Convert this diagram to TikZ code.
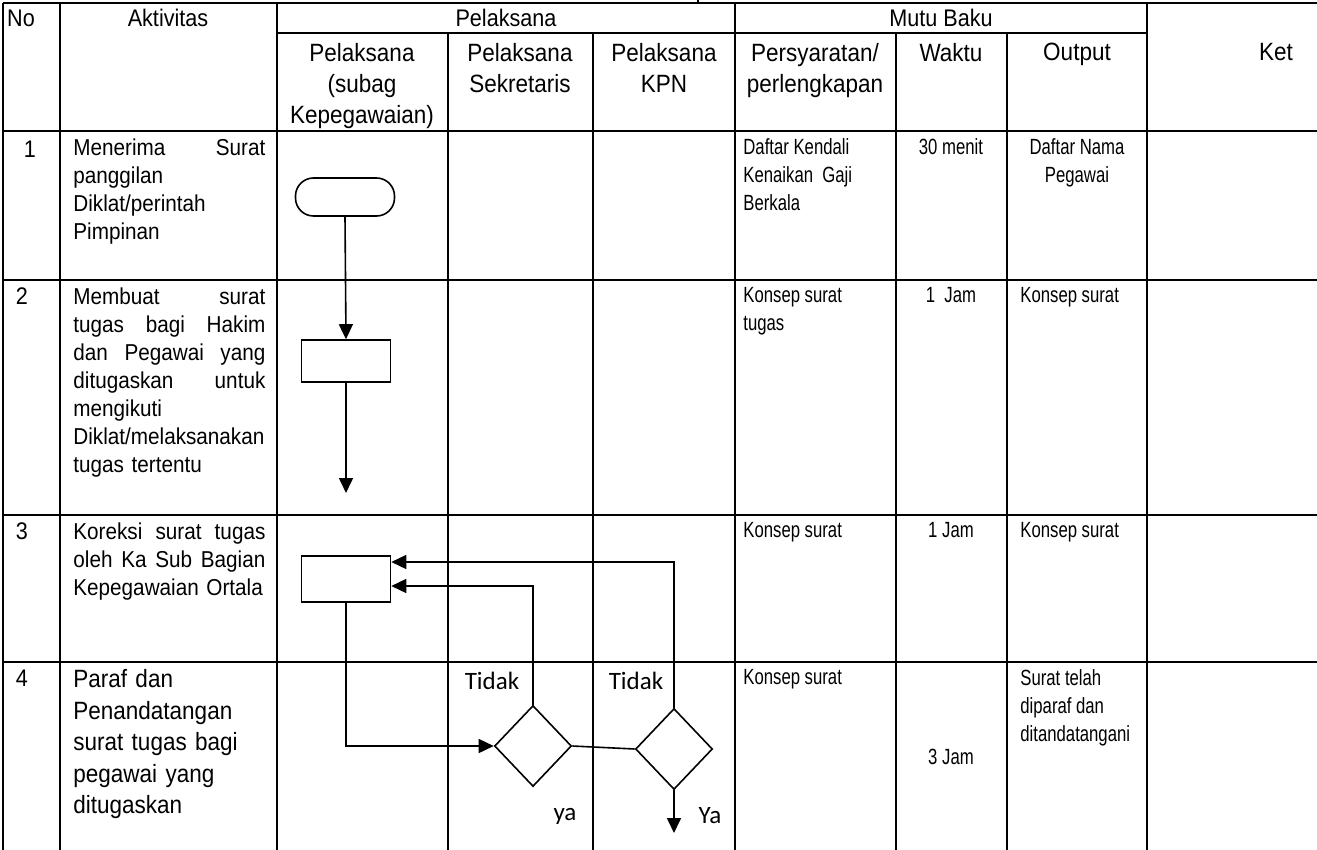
\documentclass[tikz,border=0pt]{standalone}
\usepackage{fontspec}
\setmainfont[FakeStretch=0.9]{Liberation Sans}
\newfontfamily\narrowfont[FakeStretch=0.76]{Liberation Sans}
\newfontfamily\calfont{Carlito}
\usetikzlibrary{arrows.meta,positioning,shapes.geometric}

\begin{document}
\begin{tikzpicture}[x=0.5pt,y=-0.5pt,
    grid/.style={line width=0.7pt},
    rowline/.style={line width=1.1pt},
    hdr/.style={inner sep=0pt,align=center,font=\fontsize{12.5}{15.5}\selectfont},
    num/.style={inner sep=0pt,font=\fontsize{12}{14}\selectfont},
    akt/.style={inner sep=0pt,anchor=north west,align=left,text width=96pt,font=\fontsize{11.5}{14}\selectfont},
    cell/.style={inner sep=0pt,anchor=north west,align=left,font=\narrowfont\fontsize{11}{14}\selectfont},
    ccell/.style={cell,anchor=north,align=center},
    term/.style={draw,line width=0.8pt,rounded corners=9pt,minimum width=49.5pt,minimum height=19pt,inner sep=0pt},
    proc/.style={draw,line width=0.8pt,minimum width=44.5pt,minimum height=21pt,inner sep=0pt},
    dec/.style={draw,diamond,line width=0.8pt,minimum width=38.5pt,minimum height=40.5pt,inner sep=0pt},
    flow/.style={line width=0.8pt,-{Triangle[length=7.5pt,width=7pt]}},
    lbl/.style={inner sep=0pt,font=\calfont\fontsize{12.5}{15}\selectfont}]
  \useasboundingbox (0,0) rectangle (1317,850);
  \fill[white] (0,0) rectangle (1317,850);

  % table frame
  \draw[rowline] (3,3) -- (1317,3);
  \draw[grid] (698,0) -- (698,3);
  \draw[grid] (277,33) -- (1147,33);
  \foreach \y in {131,280,515,662}
    \draw[rowline] (3,\y) -- (1317,\y);
  \foreach \x in {3,60,277,735,1147}
    \draw[grid] (\x,3) -- (\x,850);
  \foreach \x in {448,593,896,1007}
    \draw[grid] (\x,33) -- (\x,850);

  % header
  \node[hdr,font=\fontsize{12}{14}\selectfont] (hNo) at (21,18) {No};
  \node[hdr,font=\fontsize{12}{14}\selectfont] (hAkt) at (168,18) {Aktivitas};
  \node[hdr,font=\fontsize{12}{14}\selectfont] (hPel) at (506,18) {Pelaksana};
  \node[hdr,font=\fontsize{12}{14}\selectfont] (hMutu) at (941,18) {Mutu Baku};
  \node[hdr,anchor=north] (hKet) at (1276,43) {Ket};
  \node[hdr,anchor=north] (hSubag) at (362,43) {Pelaksana\\(subag\\Kepegawaian)};
  \node[hdr,anchor=north] (hSekr) at (520,43) {Pelaksana\\Sekretaris};
  \node[hdr,anchor=north] (hKpn) at (664,43) {Pelaksana\\KPN};
  \node[hdr,anchor=north] (hSyarat) at (815,43) {Persyaratan/\\perlengkapan};
  \node[hdr,anchor=north] (hWaktu) at (951,43) {Waktu};
  \node[hdr,anchor=north] (hOutput) at (1077,43) {Output};

  % row numbers
  \node[num] (n1) at (30,149) {1};
  \node[num] (n2) at (22,296) {2};
  \node[num] (n3) at (22,531) {3};
  \node[num] (n4) at (22,678) {4};

  % aktivitas
  \node[akt] (akt1) at (73,138) {Menerima\hfill Surat\\panggilan\\Diklat/perintah\\Pimpinan};
  \node[akt] (akt2) at (73,287) {Membuat\hfill surat\\tugas\hfill bagi\hfill Hakim\\dan\hfill Pegawai\hfill yang\\ditugaskan\hfill untuk\\mengikuti\\Diklat/melaksanakan\\tugas tertentu};
  \node[akt] (akt3) at (73,522) {Koreksi\hfill surat\hfill tugas\\oleh\hfill Ka\hfill Sub\hfill Bagian\\Kepegawaian Ortala};
  \node[akt,font=\fontsize{12.5}{15.75}\selectfont] (akt4) at (73,669) {Paraf dan\\Penandatangan\\surat tugas bagi\\pegawai yang\\ditugaskan};

  % mutu baku
  \node[cell] (syarat1) at (743,138) {Daftar Kendali\\Kenaikan\ \ Gaji\\Berkala};
  \node[ccell] (waktu1) at (951,138) {30 menit};
  \node[ccell] (out1) at (1077,138) {Daftar Nama\\Pegawai};
  \node[cell] (syarat2) at (743,287) {Konsep surat\\tugas};
  \node[ccell] (waktu2) at (951,287) {1\ \ Jam};
  \node[cell] (out2) at (1020,287) {Konsep surat};
  \node[cell] (syarat3) at (743,522) {Konsep surat};
  \node[ccell] (waktu3) at (951,522) {1 Jam};
  \node[cell] (out3) at (1020,522) {Konsep surat};
  \node[cell] (syarat4) at (743,669) {Konsep surat};
  \node[cell,anchor=center] (waktu4) at (951,757) {3 Jam};
  \node[cell] (out4) at (1020,669) {Surat telah\\diparaf dan\\ditandatangani};

  % flow
  \node[term] (start) at (345,197) {};
  \node[proc] (buat) at (346,361) {};
  \node[proc,minimum height=23pt] (koreksi) at (346,579) {};
  \node[dec] (cekSekr) at (533,746) {};
  \node[dec] (cekKpn) at (674,749) {};
  \coordinate (keluar2) at (346,493);
  \coordinate (selesai) at (674,833);

  \draw[flow] (start.south) -- (buat.north);
  \draw[flow] (buat.south) -- (keluar2);
  \draw[flow] (koreksi.south) |- (cekSekr.west);
  \draw[line width=0.8pt] (cekSekr.east) -- (cekKpn.west);
  \draw[flow] (cekSekr.north) |- ([yshift=-3.5pt]koreksi.east);
  \draw[flow] (cekKpn.north) |- ([yshift=8.5pt]koreksi.east);
  \draw[flow] (cekKpn.south) -- (selesai);

  \node[lbl] (tidak1) at (492,681) {Tidak};
  \node[lbl] (tidak2) at (636,681) {Tidak};
  \node[lbl] (ya1) at (565,816) {ya};
  \node[lbl] (ya2) at (710,816) {Ya};
\end{tikzpicture}
\end{document}
